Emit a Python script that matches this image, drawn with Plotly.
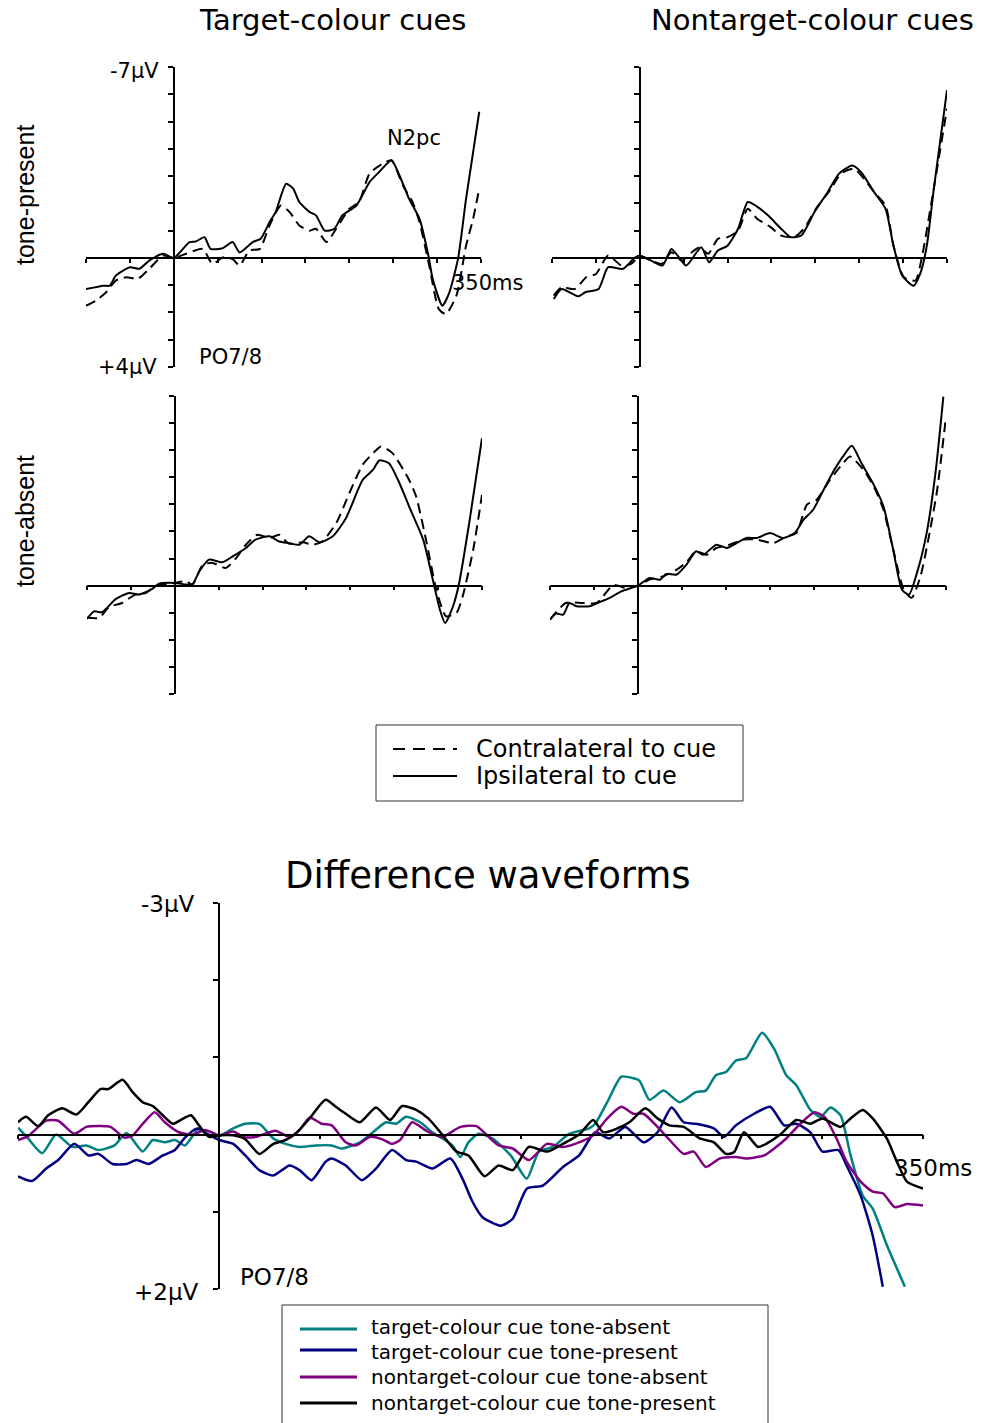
import plotly.graph_objects as go

W, H = 982, 1423

# ---------------- ERP data (ms, µV) ----------------
# Target-colour cues, tone-present
t_tp_ipsi = [-100, -90, -80, -73, -66, -50, -39, -28, -12, 0, 18, 25, 35, 42, 56, 67, 75, 90, 99, 109,
             116, 128, 136, 143, 155, 162, 172, 183, 192, 208, 223, 234, 248, 257, 268, 280, 290, 295,
             306, 314, 324, 333, 348]
v_tp_ipsi = [1.14, 1.08, 1.02, 1.02, 0.65, 0.34, 0.40, 0.10, -0.15, 0, -0.58, -0.60, -0.76, -0.33, -0.36,
             -0.58, -0.20, -0.58, -0.70, -1.31, -1.68, -2.72, -2.54, -2.05, -1.68, -1.56, -1.00, -1.07,
             -1.56, -1.92, -2.78, -3.15, -3.58, -3.03, -2.17, -1.43, -0.09, 0.77, 1.75, 1.26, 0, -2.17, -5.36]
t_tp_contra = [-100, -89, -77, -66, -54, -41, -28, -12, 0, 14, 33, 44, 56, 67, 75, 86, 98, 109, 122, 132,
               143, 155, 162, 174, 185, 200, 211, 223, 238, 248, 261, 272, 280, 291, 302, 310, 322, 333,
               341, 348]
v_tp_contra = [1.75, 1.57, 1.26, 0.83, 0.71, 0.77, 0.40, -0.09, 0, -0.15, -0.33, 0.22, -0.02, 0.04, 0.28,
               -0.27, -0.33, -1.19, -1.92, -1.68, -1.19, -1.00, -1.07, -0.58, -1.07, -1.80, -2.05, -3.09,
               -3.46, -3.58, -2.66, -2.05, -1.31, 0.28, 1.88, 2.06, 1.38, -0.45, -1.43, -2.54]

# Nontarget-colour cues, tone-present
t_ntp_ipsi = [-98, -89, -70, -62, -47, -36, -19, -6, 0, 13, 26, 36, 43, 53, 70, 79, 89, 100, 112, 123,
              132, 146, 161, 172, 184, 199, 214, 227, 242, 252, 267, 280, 289, 299, 312, 320, 327, 335, 350]
v_ntp_ipsi = [1.51, 1.14, 1.41, 1.26, 1.14, 0.34, 0.40, 0, -0.09, 0.10, 0.28, -0.33, -0.09, 0.28, -0.39,
              0.16, -0.27, -0.45, -1.07, -2.05, -1.92, -1.56, -1.07, -0.76, -0.82, -1.68, -2.41, -3.09,
              -3.39, -3.15, -2.41, -1.80, -0.45, 0.65, 1.02, 0.53, -0.45, -2.54, -6.15]
t_ntp_contra = [-98, -89, -74, -61, -50, -36, -21, -10, 0, 13, 25, 36, 48, 59, 68, 78, 89, 100, 112, 123,
                134, 149, 161, 176, 187, 202, 218, 229, 244, 257, 267, 280, 289, 301, 314, 321, 333, 350]
v_ntp_contra = [1.38, 1.08, 1.14, 0.71, 0.59, -0.09, 0.28, 0.22, -0.06, 0.10, 0.22, -0.21, 0.10, -0.20,
                -0.39, -0.15, -0.70, -0.76, -1.00, -1.80, -1.43, -1.13, -0.82, -0.76, -1.07, -1.86, -2.54,
                -3.09, -3.27, -2.84, -2.41, -1.92, -0.45, 0.71, 0.83, 0.04, -2.17, -5.48]

# Target-colour cues, tone-absent
t_ta_ipsi = [-100, -92, -83, -67, -52, -41, -27, -18, 0, 13, 20, 28, 39, 54, 66, 81, 92, 108, 119, 130,
             142, 153, 165, 180, 195, 214, 226, 233, 244, 256, 267, 283, 294, 302, 308, 317, 324, 336, 350]
v_ta_ipsi = [1.23, 0.95, 0.98, 0.49, 0.27, 0.33, 0.15, -0.07, -0.10, -0.04, -0.04, -0.53, -0.96, -0.86,
             -1.08, -1.39, -1.70, -1.82, -1.63, -1.57, -1.51, -1.82, -1.60, -1.82, -2.49, -3.90, -4.28,
             -4.62, -4.52, -3.78, -2.92, -1.70, -0.22, 0.88, 1.38, 0.76, -0.10, -2.43, -5.44]
t_ta_contra = [-100, -86, -75, -60, -45, -33, -22, 0, 13, 20, 32, 43, 58, 70, 81, 94, 108, 119, 130, 146,
               157, 168, 184, 199, 214, 226, 235, 248, 267, 275, 287, 298, 309, 321, 328, 340, 350]
v_ta_contra = [1.19, 1.19, 0.79, 0.64, 0.33, 0.27, 0.02, -0.10, -0.16, -0.04, -0.77, -0.84, -0.65, -1.02,
               -1.51, -1.88, -1.76, -1.88, -1.55, -1.60, -1.51, -1.63, -2.31, -3.42, -4.46, -4.89, -5.14,
               -4.89, -3.90, -3.29, -1.57, 0.15, 1.13, 1.00, 0.39, -1.33, -3.35]

# Nontarget-colour cues, tone-absent
t_nta_ipsi = [-100, -93, -85, -78, -70, -55, -46, -32, -19, 0, 13, 25, 32, 44, 55, 66, 74, 89, 101, 112,
              123, 135, 150, 165, 178, 188, 199, 211, 222, 233, 243, 254, 268, 279, 290, 300, 308, 317,
              328, 338, 347]
v_nta_ipsi = [1.25, 1.03, 1.07, 0.64, 0.76, 0.76, 0.64, 0.45, 0.21, 0, -0.28, -0.22, -0.43, -0.41, -0.77,
              -1.27, -1.14, -1.51, -1.39, -1.57, -1.76, -1.76, -1.94, -1.76, -1.94, -2.43, -2.80, -3.54,
              -4.21, -4.77, -5.16, -4.52, -3.72, -2.92, -1.33, 0.15, 0.33, -0.47, -1.94, -4.15, -6.98]
t_nta_contra = [-100, -82, -63, -47, -28, -13, 0, 13, 28, 44, 55, 66, 78, 89, 104, 120, 135, 154, 169, 180,
                192, 203, 218, 230, 241, 256, 268, 279, 290, 302, 311, 321, 332, 340, 350]
v_nta_contra = [1.25, 0.64, 0.64, 0.64, -0.02, 0.09, 0, -0.22, -0.34, -0.59, -0.86, -1.27, -1.14, -1.39,
                -1.51, -1.70, -1.70, -1.57, -1.82, -1.94, -2.99, -3.17, -3.90, -4.40, -4.77, -4.28, -3.66,
                -2.80, -1.33, 0.15, 0.45, -0.34, -2.06, -3.54, -6.24]

# Difference waveforms (contra - ipsi)
t_d_tc_absent = [-100, -95, -88, -81, -73, -66, -60, -52, -46, -38, -33, -27, -22, -17, -10, -5, 0, 7, 13, 20,
                 27, 33, 40, 48, 56, 61, 70, 76, 83, 88, 93, 100, 106, 111, 116, 120, 124, 129, 136, 145,
                 153, 159, 166, 174, 184, 187, 193, 200, 206, 209, 214, 221, 229, 237, 242, 247, 252, 257,
                 262, 270, 276, 282, 287, 294, 299, 304, 309, 314, 320, 325, 332, 341]
v_d_tc_absent = [-0.09, 0.05, 0.24, 0, 0.16, 0.14, 0.20, 0.14, -0.02, 0.22, 0.07, 0.10, 0.07, 0.14, -0.08,
                 0.01, 0.02, -0.08, -0.14, -0.14, 0.05, 0.12, 0.16, 0.14, 0.14, 0.18, 0.10, -0.02, -0.16,
                 -0.14, -0.23, -0.16, -0.03, 0.05, 0.14, 0.29, 0.10, -0.01, 0.05, 0.27, 0.57, 0.22, 0.16,
                 -0.01, -0.08, -0.14, -0.42, -0.75, -0.73, -0.70, -0.45, -0.57, -0.42, -0.55, -0.57, -0.77,
                 -0.81, -0.96, -0.99, -1.32, -1.11, -0.77, -0.64, -0.32, -0.23, -0.35, -0.25, 0.27, 0.79,
                 0.96, 1.43, 1.97]
t_d_tc_present = [-100, -93, -86, -80, -72, -65, -60, -53, -46, -41, -35, -28, -22, -17, -11, -6, 0, 7, 13, 20,
                  27, 35, 40, 46, 53, 56, 63, 71, 78, 86, 93, 98, 106, 115, 121, 126, 131, 140, 146, 153,
                  161, 171, 179, 187, 194, 202, 211, 218, 225, 231, 237, 246, 251, 257, 266, 274, 281, 287,
                  294, 300, 308, 312, 319, 325, 330]
v_d_tc_present = [0.54, 0.60, 0.44, 0.33, 0.12, 0.27, 0.25, 0.38, 0.38, 0.33, 0.38, 0.27, 0.20, 0.04, -0.08,
                  -0.01, 0.07, 0.12, 0.27, 0.46, 0.53, 0.40, 0.46, 0.59, 0.35, 0.31, 0.40, 0.59, 0.44, 0.20,
                  0.33, 0.35, 0.44, 0.31, 0.57, 0.87, 1.07, 1.18, 1.09, 0.70, 0.66, 0.42, 0.27, -0.03, 0.05,
                  -0.10, 0.10, -0.03, -0.35, -0.16, -0.14, -0.08, 0.03, -0.12, -0.27, -0.36, -0.12, -0.14,
                  -0.03, 0.22, 0.20, 0.40, 0.79, 1.31, 1.97]
t_d_ntc_absent = [-100, -95, -86, -80, -72, -66, -60, -54, -47, -43, -38, -32, -27, -20, -13, -7, 0, 7, 12, 18,
                  28, 35, 40, 45, 51, 56, 63, 68, 75, 81, 86, 90, 96, 103, 111, 120, 128, 134, 139, 146,
                  154, 163, 171, 179, 186, 193, 200, 206, 211, 218, 224, 231, 236, 242, 249, 257, 262, 271,
                  276, 282, 289, 296, 301, 307, 312, 319, 325, 330, 336, 342, 350]
v_d_ntc_absent = [0.07, 0.02, -0.18, -0.18, -0.01, -0.10, -0.11, -0.10, 0.04, 0.01, -0.14, -0.29, -0.16, -0.03,
                  0, -0.06, 0.01, -0.04, 0.03, 0.03, -0.05, 0.03, -0.06, -0.22, -0.14, -0.12, 0.10, 0.14, 0.03,
                  0.06, 0.12, 0.07, -0.16, -0.05, 0.03, -0.10, -0.11, 0.03, 0.14, 0.18, 0.33, 0.12, 0.16,
                  0.10, 0.01, -0.21, -0.36, -0.27, -0.27, -0.10, 0.07, 0.25, 0.22, 0.42, 0.31, 0.29, 0.31,
                  0.27, 0.18, 0.05, -0.14, -0.29, -0.23, 0.05, 0.35, 0.61, 0.74, 0.76, 0.94, 0.90, 0.92]
t_d_ntc_present = [-100, -96, -90, -85, -78, -71, -65, -59, -55, -48, -43, -38, -33, -28, -23, -19, -14, -10,
                   -5, 0, 7, 13, 20, 27, 33, 38, 45, 53, 58, 63, 70, 78, 85, 91, 98, 104, 111, 118, 124, 132,
                   139, 146, 154, 163, 171, 179, 186, 191, 198, 204, 212, 218, 224, 231, 239, 246, 252, 256,
                   261, 268, 272, 279, 287, 294, 300, 309, 314, 320, 325, 332, 337, 342, 350]
v_d_ntc_present = [-0.16, -0.23, -0.11, -0.25, -0.34, -0.26, -0.42, -0.59, -0.59, -0.71, -0.55, -0.42, -0.37,
                   -0.25, -0.14, -0.19, -0.25, -0.12, 0.03, 0.01, 0.01, 0.06, 0.25, 0.12, 0.07, -0.01, -0.21,
                   -0.45, -0.36, -0.27, -0.16, -0.35, -0.19, -0.37, -0.32, -0.21, 0, 0.22, 0.27, 0.54, 0.40,
                   0.46, 0.16, 0.22, 0.12, 0, -0.19, -0.03, -0.08, -0.16, -0.34, -0.21, -0.12, -0.10, 0.05,
                   0.10, 0.25, 0.23, -0.03, 0.16, 0.12, 0, -0.19, -0.14, -0.21, -0.10, -0.21, -0.32, -0.21,
                   0.05, 0.35, 0.61, 0.70]

x_ticks = [-100, -50, 0, 50, 100, 150, 200, 250, 300, 350]
erp_range = [4, -7]          # negative up
diff_range = [2, -3]

FONT = "DejaVu Sans"
DASH = "10px,6px"


def px(x):
    return x / W


def py(y):
    return 1 - y / H


fig = go.Figure()

# panel geometry in pixels: (x_left, x_right, y_top, y_bottom)
panels = {
    "": (86, 481, 67, 367),
    "2": (552, 947, 67, 367),
    "3": (87, 482, 396, 694),
    "4": (550, 946, 396, 694),
}

erp_sets = {
    "": (t_tp_contra, v_tp_contra, t_tp_ipsi, v_tp_ipsi),
    "2": (t_ntp_contra, v_ntp_contra, t_ntp_ipsi, v_ntp_ipsi),
    "3": (t_ta_contra, v_ta_contra, t_ta_ipsi, v_ta_ipsi),
    "4": (t_nta_contra, v_nta_contra, t_nta_ipsi, v_nta_ipsi),
}

layout_axes = {}


def add_axes(sfx, geom, yrange, yticks, xlen=4):
    x0, x1, y0, y1 = geom
    lo, hi = yrange[1], yrange[0]
    # pixel row of 0 µV and pixel column of 0 ms
    zero_y = y0 + (0 - lo) / (hi - lo) * (y1 - y0)
    zero_x = x0 + (0 - (-100)) / 450 * (x1 - x0)
    layout_axes["xaxis" + sfx] = dict(
        domain=[px(x0), px(x1)], range=[-100, 350], anchor="free", position=py(zero_y),
        showline=True, linecolor="black", linewidth=1.5, ticks="outside", ticklen=xlen,
        tickwidth=1.5, tickcolor="black", tickvals=x_ticks, showticklabels=False,
        showgrid=False, zeroline=False, fixedrange=True,
    )
    layout_axes["yaxis" + sfx] = dict(
        domain=[py(y1), py(y0)], range=yrange, anchor="free", position=px(zero_x),
        showline=True, linecolor="black", linewidth=1.5, ticks="outside", ticklen=5,
        tickwidth=1.5, tickcolor="black", tickvals=yticks, showticklabels=False,
        showgrid=False, zeroline=False, fixedrange=True,
    )


for sfx, geom in panels.items():
    add_axes(sfx, geom, erp_range, list(range(-7, 5)))
    tc, vc, ti, vi = erp_sets[sfx]
    xa, ya = "x" + sfx, "y" + sfx
    fig.add_trace(go.Scatter(x=tc, y=vc, mode="lines", xaxis=xa, yaxis=ya, showlegend=False,
                             line=dict(color="black", width=2, dash=DASH, shape="spline", smoothing=0.6)))
    fig.add_trace(go.Scatter(x=ti, y=vi, mode="lines", xaxis=xa, yaxis=ya, showlegend=False,
                             line=dict(color="black", width=2, shape="spline", smoothing=0.6)))

# difference waveform panel
add_axes("5", (18, 923, 903, 1289), diff_range, list(range(-3, 3)))
diff_series = [
    ("target-colour cue tone-absent", "#008080", t_d_tc_absent, v_d_tc_absent),
    ("target-colour cue tone-present", "#000080", t_d_tc_present, v_d_tc_present),
    ("nontarget-colour cue tone-absent", "#800080", t_d_ntc_absent, v_d_ntc_absent),
    ("nontarget-colour cue tone-present", "#000000", t_d_ntc_present, v_d_ntc_present),
]
for name, col, t, v in diff_series:
    fig.add_trace(go.Scatter(x=t, y=v, mode="lines", xaxis="x5", yaxis="y5", name=name, showlegend=False,
                             line=dict(color=col, width=2.5, shape="spline", smoothing=0.6)))

annotations = []


def text(s, x, y, size, xanchor="center", angle=0, family=FONT):
    annotations.append(dict(text=s, x=px(x), y=py(y), xref="paper", yref="paper", showarrow=False,
                            xanchor=xanchor, yanchor="middle", textangle=angle,
                            font=dict(family=family, size=size, color="black")))


# column and row titles
text("Target-colour cues", 332, 20, 29)
text("Nontarget-colour cues", 812, 20, 29)
text("tone-present", 25, 195, 25, angle=-90, family="Liberation Sans")
text("tone-absent", 25, 521, 25, angle=-90, family="Liberation Sans")

# panel labels
text("-7μV", 161, 71, 21, xanchor="right")
text("+4μV", 159, 367, 21, xanchor="right")
text("N2pc", 414, 138, 21)
text("350ms", 450, 283, 21, xanchor="left")
text("PO7/8", 197, 357, 21, xanchor="left")

# difference panel labels
text("Difference waveforms", 488, 875, 37)
text("-3μV", 197, 904, 23, xanchor="right")
text("+2μV", 201, 1292, 23, xanchor="right")
text("PO7/8", 238, 1277, 23, xanchor="left")
text("350ms", 892, 1168, 23, xanchor="left")

shapes = []


def seg(x0, y0, x1, y1, color="black", width=2, dash=None):
    ln = dict(color=color, width=width)
    if dash:
        ln["dash"] = dash
    shapes.append(dict(type="line", xref="paper", yref="paper", x0=px(x0), y0=py(y0),
                       x1=px(x1), y1=py(y1), line=ln))


# legend for the ERP panels
shapes.append(dict(type="rect", xref="paper", yref="paper", x0=px(376), x1=px(743),
                   y0=py(801), y1=py(725), line=dict(color="#333333", width=1)))
seg(393, 749, 457, 749, dash="12px,8px")
seg(393, 776, 457, 776)
text("Contralateral to cue", 474, 749, 24, xanchor="left")
text("Ipsilateral to cue", 474, 776, 24, xanchor="left")

# legend for the difference waveforms (box runs past the bottom edge)
seg(282, 1305, 768, 1305, color="#333333", width=1)
seg(282, 1305, 282, 1430, color="#333333", width=1)
seg(768, 1305, 768, 1430, color="#333333", width=1)
legend_rows = [1329, 1350, 1377, 1403]
label_rows = [1327, 1352, 1377, 1403]
for (name, col, _, _), yy, ty in zip(diff_series, legend_rows, label_rows):
    seg(300, yy, 357, yy, color=col, width=3)
    text(name, 369, ty, 20, xanchor="left")

fig.update_layout(
    width=W, height=H, autosize=False,
    margin=dict(l=0, r=0, t=0, b=0),
    paper_bgcolor="white", plot_bgcolor="white",
    showlegend=False,
    annotations=annotations, shapes=shapes,
    **layout_axes,
)

fig.write_html("out.html")
